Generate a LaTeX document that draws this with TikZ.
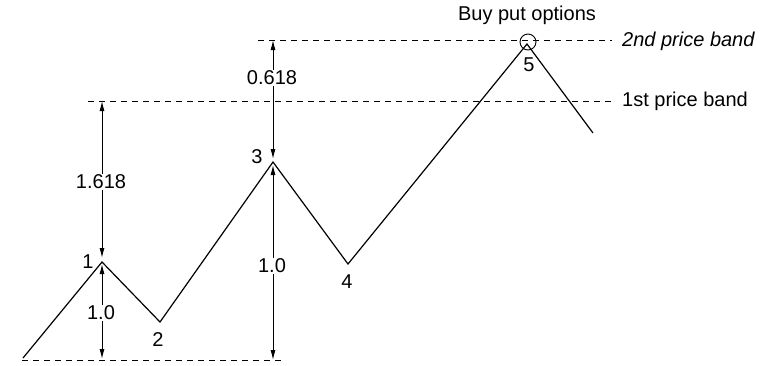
\documentclass[tikz,border=0pt]{standalone}
\usepackage{fontspec}
\setmainfont{Liberation Sans}
\usetikzlibrary{arrows.meta}
\tikzset{
  wave/.style={line width=1.2pt, line join=miter},
  band/.style={line width=1pt, dash pattern=on 6pt off 5pt},
  meas/.style={line width=1.0pt, -{Latex[length=10pt,width=5pt]}},
  lbl/.style={font=\fontsize{20}{22}\selectfont, inner sep=1pt},
  bandlbl/.style={font=\fontsize{20}{22}\selectfont, inner sep=0pt, anchor=west},
}
\begin{document}
\begin{tikzpicture}[x=1pt,y=-1pt]
\useasboundingbox (0,0) rectangle (772,365);
% wave points
\coordinate (p0) at (23,358);
\coordinate (p1) at (102,262);
\coordinate (p2) at (160,322);
\coordinate (p3) at (273,162);
\coordinate (p4) at (348,264);
\coordinate (p5) at (527,44);
\coordinate (p6) at (593,133);
\draw[wave] (p0) -- (p1) -- (p2) -- (p3) -- (p4) -- (p5) -- (p6);
% bands
\coordinate (b0a) at (22,360);  \coordinate (b0b) at (285,360);
\coordinate (b1a) at (88,101);  \coordinate (b1b) at (614,101);
\coordinate (b2a) at (258,40);  \coordinate (b2b) at (612,40);
\draw[band] (b0a) -- (b0b);
\draw[band] (b1a) -- (b1b);
\draw[band] (b2a) -- (b2b);
\node[bandlbl] (l1st) at (622,101) {1st price band};
\node[bandlbl, font=\fontsize{20}{22}\selectfont\itshape] (l2nd) at (622,41) {2nd price band};
% circle at 5
\node[draw, circle, minimum size=16pt, inner sep=0pt, line width=0.9pt] (c5) at (528,42) {};
\node[lbl] (buy) at (527,15) {Buy put options};
% point labels
\node[lbl] (n1) at (88,262) {1};
\node[lbl] (n2) at (158,340) {2};
\node[lbl] (n3) at (257,157) {3};
\node[lbl] (n4) at (347,282) {4};
\node[lbl] (n5) at (529,65) {5};
% measurement arrows
\coordinate (t1618) at (102,101);
\coordinate (b1618) at (102,258);
\coordinate (t10a) at (102,264);
\coordinate (b10a) at (102,359);
\coordinate (t0618) at (273,40);
\coordinate (b0618) at (273,159);
\coordinate (t10b) at (273,165);
\coordinate (b10b) at (273,360);
\node[lbl] (m1618) at (101,182) {1.618};
\node[lbl] (m10a) at (101,313) {1.0};
\node[lbl] (m0618) at (272,78) {0.618};
\node[lbl] (m10b) at (272,266) {1.0};
\draw[meas] (m1618.north -| t1618) -- (t1618);
\draw[meas] (m1618.south -| b1618) -- (b1618);
\draw[meas] (m10a.north -| t10a) -- (t10a);
\draw[meas] (m10a.south -| b10a) -- (b10a);
\draw[meas] (m0618.north -| t0618) -- (t0618);
\draw[meas] (m0618.south -| b0618) -- (b0618);
\draw[meas] (m10b.north -| t10b) -- (t10b);
\draw[meas] (m10b.south -| b10b) -- (b10b);
\end{tikzpicture}
\end{document}
